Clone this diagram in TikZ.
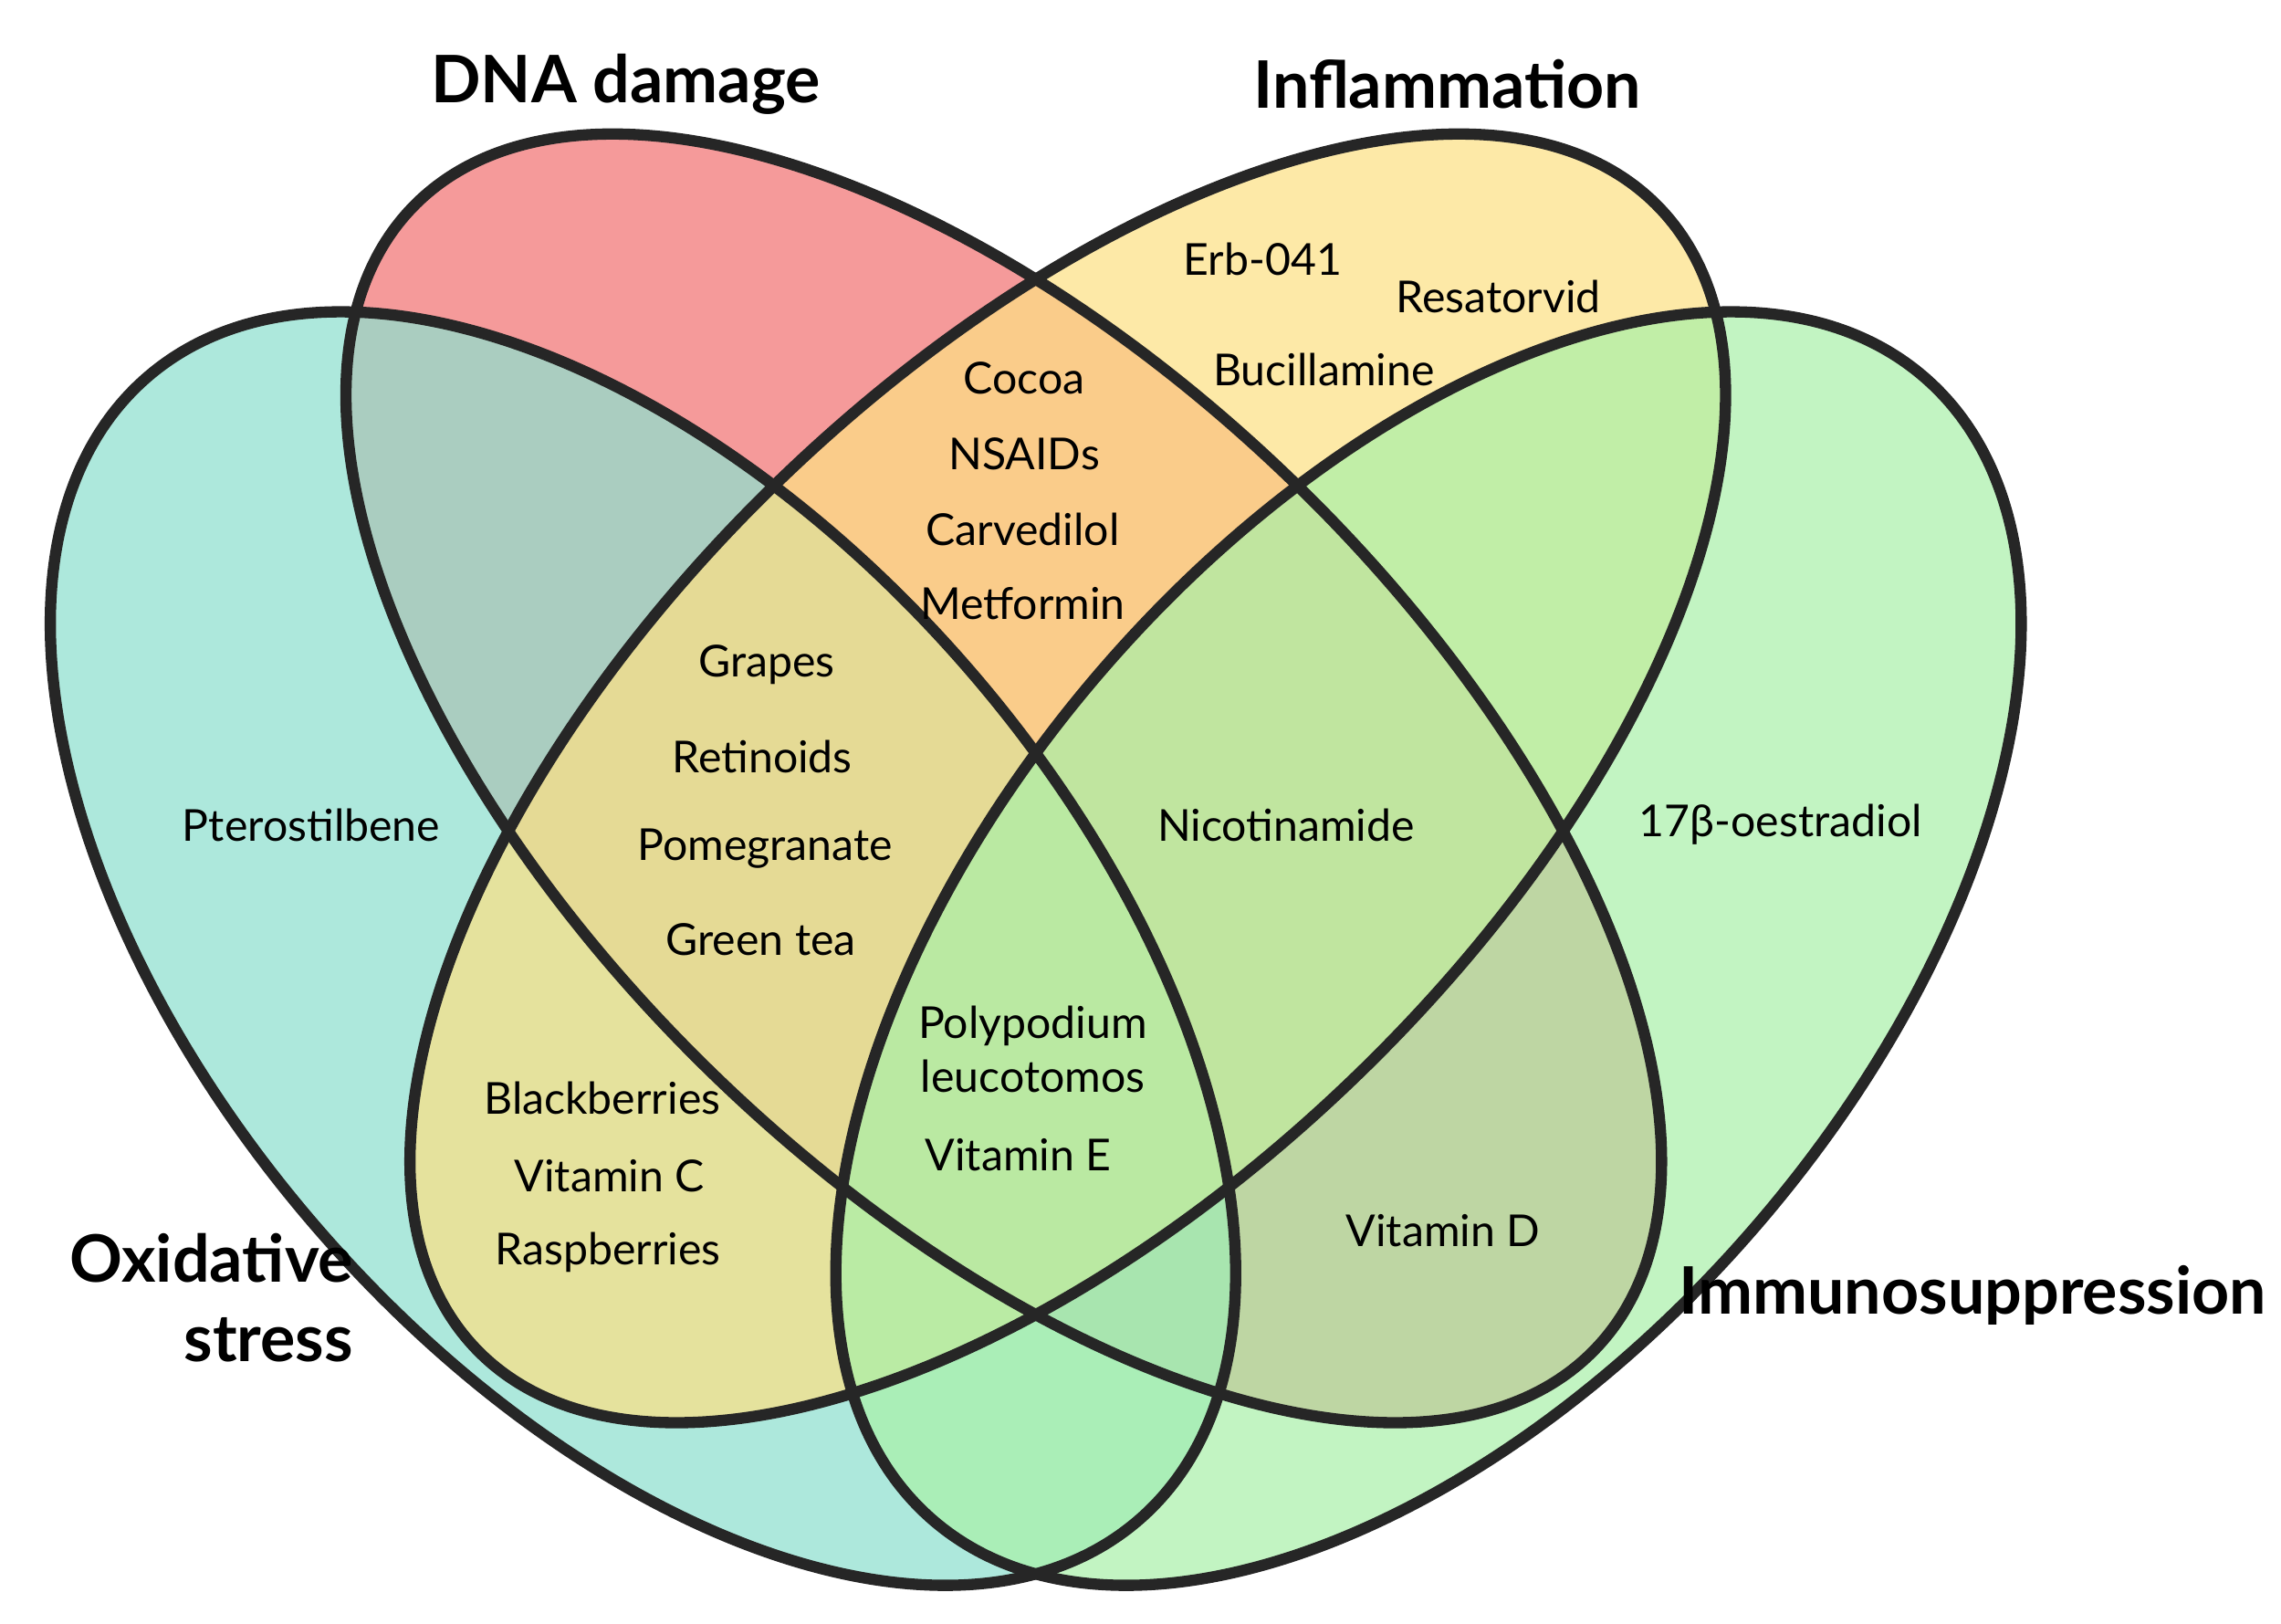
\documentclass[tikz,border=0pt]{standalone}
\usepackage{fontspec}
\setmainfont{Lato}
\begin{document}
\begin{tikzpicture}[x=0.01cm,y=-0.01cm,
  set/.style={line width=2.2pt,draw=black!85},
  lbl/.style={font=\fontsize{8.6}{10.5}\selectfont,align=center,inner sep=1pt},
  ttl/.style={font=\bfseries\fontsize{12.8}{15.5}\selectfont,inner sep=1pt}]
\useasboundingbox (0,0) rectangle (1568,1116);
\definecolor{cOx}{rgb}{0.56,0.88,0.81}
\definecolor{cDNA}{HTML}{F59A9A}
\definecolor{cInf}{rgb}{0.99,0.88,0.52}
\definecolor{cIm}{rgb}{0.66,0.94,0.66}
\fill[cDNA] (690,535) ellipse [x radius=565,y radius=285,rotate=-44];
\fill[cOx,fill opacity=0.73] (442,652) ellipse [x radius=520,y radius=295,rotate=-49];
\fill[cInf,fill opacity=0.72] (734,535) ellipse [x radius=565,y radius=285,rotate=44];
\fill[cIm,fill opacity=0.7] (982,652) ellipse [x radius=520,y radius=295,rotate=49];
\draw[set] (442,652) ellipse [x radius=520,y radius=295,rotate=-49];
\draw[set] (982,652) ellipse [x radius=520,y radius=295,rotate=49];
\draw[set] (690,535) ellipse [x radius=565,y radius=285,rotate=-44];
\draw[set] (734,535) ellipse [x radius=565,y radius=285,rotate=44];
\node[ttl] (tdna) at (430,58) {DNA damage};
\node[ttl] (tinf) at (995,58) {Inflammation};
\node[ttl,align=right,anchor=east] (tox) at (247,892) {Oxidative\\stress};
\node[ttl] (tim) at (1356,890) {Immunosuppression};
\node[lbl] (erb) at (868,178) {Erb-041};
\node[lbl] (res) at (1030,204) {Resatorvid};
\node[lbl] (buc) at (910,254) {Bucillamine};
\node[lbl] (c1) at (704,260) {Cocoa};
\node[lbl] (c2) at (704,312) {NSAIDs};
\node[lbl] (c3) at (703,364) {Carvedilol};
\node[lbl] (c4) at (703,415) {Metformin};
\node[lbl] (g1) at (527,457) {Grapes};
\node[lbl] (g2) at (524,520) {Retinoids};
\node[lbl] (g3) at (526,583) {Pomegranate};
\node[lbl] (g4) at (523,646) {Green tea};
\node[lbl] (pt) at (214,567) {Pterostilbene};
\node[lbl] (nic) at (884,567) {Nicotinamide};
\node[lbl] (oe) at (1224,567) {17β-oestradiol};
\node[lbl] (b1) at (414,755) {Blackberries};
\node[lbl] (b2) at (419,808) {Vitamin C};
\node[lbl] (b3) at (418,861) {Raspberries};
\node[lbl] (p1) at (710,721) {Polypodium\\leucotomos};
\node[lbl] (p2) at (700,794) {Vitamin E};
\node[lbl] (vd) at (992,846) {Vitamin D};
\end{tikzpicture}
\end{document}
